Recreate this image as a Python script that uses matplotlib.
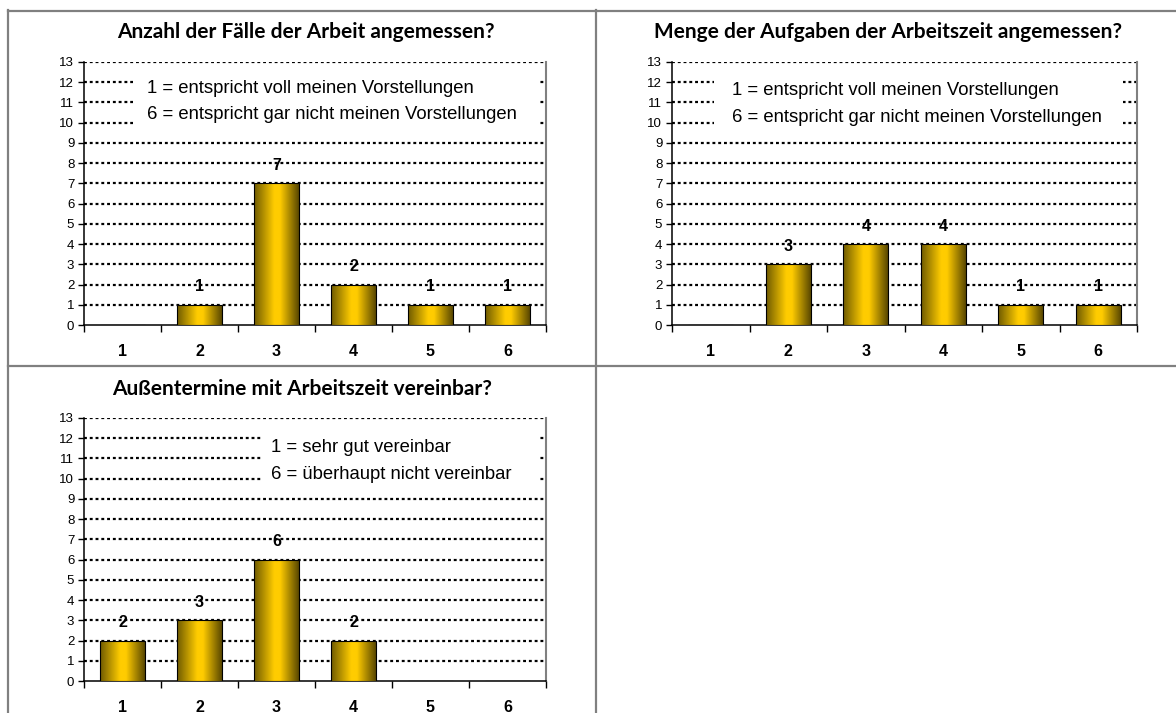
import matplotlib
matplotlib.use("Agg")
import matplotlib.pyplot as plt
import numpy as np
from matplotlib.colors import LinearSegmentedColormap
from matplotlib.lines import Line2D
from matplotlib.patches import Rectangle

# data
categories = [1, 2, 3, 4, 5, 6]
faelle = [0, 1, 7, 2, 1, 1]
aufgaben = [0, 3, 4, 4, 1, 1]
aussentermine = [2, 3, 6, 2, 0, 0]

titles = [
    "Anzahl der Fälle der Arbeit angemessen?",
    "Menge der Aufgaben der Arbeitszeit angemessen?",
    "Außentermine mit Arbeitszeit vereinbar?",
]
notes = [
    ["1 = entspricht voll meinen Vorstellungen", "6 = entspricht gar nicht meinen Vorstellungen"],
    ["1 = entspricht voll meinen Vorstellungen", "6 = entspricht gar nicht meinen Vorstellungen"],
    ["1 = sehr gut vereinbar", "6 = überhaupt nicht vereinbar"],
]
y_ticks = list(range(0, 14))

W, H = 1176, 713
fig = plt.figure(figsize=(W / 100, H / 100), dpi=100, facecolor="white")

gold = LinearSegmentedColormap.from_list(
    "gold", [(0.0, "#6e5a00"), (0.45, "#ffcc00"), (0.58, "#ffcc00"), (1.0, "#594700")]
)
grad = np.linspace(0, 1, 256).reshape(1, -1)


def px_axes(left, right, top, bottom):
    return [left / W, 1 - bottom / H, (right - left) / W, (bottom - top) / H]


def draw_chart(rect, values, note, box_x, text_x, text_y):
    ax = fig.add_axes(rect)
    bars = ax.bar(categories, values, width=0.58, facecolor="none",
                  edgecolor="black", linewidth=0.8, zorder=4)
    for b, v in zip(bars, values):
        if v <= 0:
            continue
        x0 = b.get_x()
        im = ax.imshow(grad, cmap=gold, aspect="auto", zorder=3,
                       extent=[x0, x0 + b.get_width(), 0, v])
        im.set_clip_path(b)
        ax.annotate(str(v), (b.get_x() + b.get_width() / 2, v),
                    xytext=(0, 13), textcoords="offset points",
                    ha="center", va="center", fontsize=11.5,
                    fontweight="bold", family="Liberation Sans", zorder=6)

    ax.set_xlim(0.5, 6.5)
    ax.set_ylim(0, 13)
    ax.set_yticks(y_ticks)
    ax.set_xticks(categories)
    ax.set_xticks(np.arange(0.5, 6.6, 1), minor=True)
    ax.set_xticklabels([str(c) for c in categories], fontsize=11.5,
                       fontweight="bold", family="Liberation Sans")
    for lbl in ax.get_yticklabels():
        lbl.set_fontsize(9.5)
        lbl.set_family("Liberation Sans")
    ax.tick_params(axis="x", which="major", length=0, pad=14)
    ax.tick_params(axis="x", which="minor", length=5, width=1, direction="out")
    ax.tick_params(axis="y", length=4, width=1, direction="out", pad=3)

    for y in y_ticks[1:]:
        ax.axhline(y, color="black", linewidth=1.6,
                   linestyle=(0, (1.3, 1.3)), zorder=1)

    ax.spines["top"].set_visible(False)
    ax.spines["right"].set_color("#808080")
    ax.spines["right"].set_linewidth(1.5)
    ax.spines["left"].set_color("black")
    ax.spines["bottom"].set_color("black")
    ax.spines["left"].set_linewidth(1.1)
    ax.spines["bottom"].set_linewidth(1.1)

    # white label box over the gridlines
    ax.add_patch(Rectangle((box_x[0], 0.735), box_x[1] - box_x[0], 0.235,
                           transform=ax.transAxes, facecolor="white",
                           edgecolor="none", zorder=2))
    ax.text(text_x, text_y[0], note[0], transform=ax.transAxes, fontsize=13.3,
            family="Liberation Sans", va="center", ha="left", zorder=5)
    ax.text(text_x, text_y[1], note[1], transform=ax.transAxes, fontsize=13.3,
            family="Liberation Sans", va="center", ha="left", zorder=5)
    return ax


draw_chart(px_axes(84, 546, 62, 325), faelle, notes[0],
           (0.105, 0.987), 0.137, (0.90, 0.80))
draw_chart(px_axes(672, 1137, 62, 325), aufgaben, notes[1],
           (0.09, 0.97), 0.13, (0.89, 0.79))
draw_chart(px_axes(84, 546, 418, 681), aussentermine, notes[2],
           (0.385, 0.987), 0.405, (0.886, 0.785))

# titles centred in their table cells
title_pos = [(306, 32), (888, 32), (302, 389)]
for t, (cx, cy) in zip(titles, title_pos):
    fig.text(cx / W, 1 - cy / H, t, ha="center", va="center",
             fontsize=15, fontweight="bold", family="Lato")

# table cell borders
border = dict(color="#808080", linewidth=1.6, transform=fig.transFigure)
segs = [
    ((8, 1176), (11, 11)),
    ((8, 8), (10, 713)),
    ((596, 596), (10, 713)),
    ((8, 1176), (366, 366)),
]
for xs, ys in segs:
    fig.add_artist(Line2D([x / W for x in xs], [1 - y / H for y in ys], **border))

fig.savefig("out.png", dpi=100, facecolor="white")
